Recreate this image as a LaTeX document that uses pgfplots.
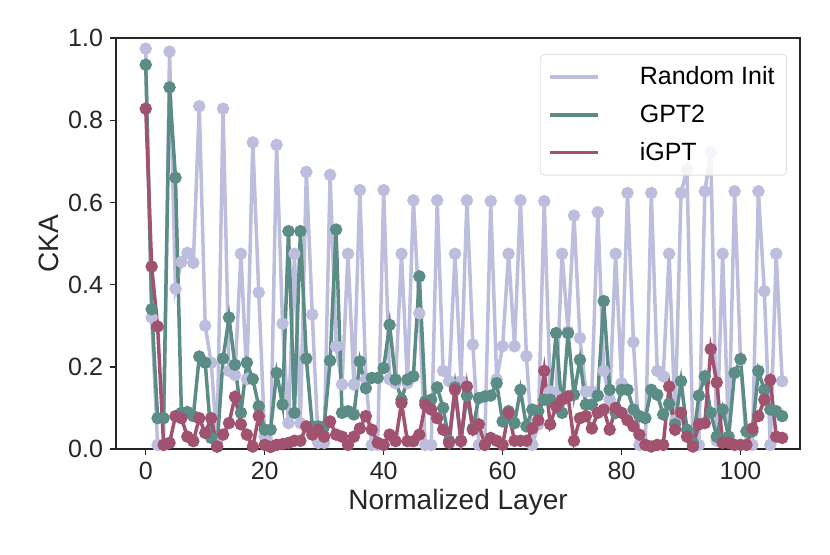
\documentclass[border=0pt]{standalone}
\usepackage{pgfplots}
\pgfplotsset{compat=1.18}
\usepackage{pgfplotstable}
\usepackage{fontspec}
\setmainfont{Liberation Sans}
\definecolor{cRand}{HTML}{BDBDDD}
\definecolor{cGPT}{HTML}{5C8C86}
\definecolor{cIGPT}{HTML}{A1526F}
\definecolor{axc}{HTML}{262626}
\pgfplotstableread{
x rand gpt igpt
0 0.974 0.935 0.828
1 0.32 0.34 0.444
2 0.01 0.075 0.298
3 0.01 0.075 0.01
4 0.967 0.88 0.015
5 0.39 0.66 0.08
6 0.455 0.088 0.075
7 0.477 0.09 0.03
8 0.453 0.08 0.019
9 0.834 0.225 0.075
10 0.30 0.21 0.039
11 0.21 0.027 0.075
12 0.015 0.006 0.006
13 0.828 0.22 0.035
14 0.19 0.32 0.063
15 0.18 0.205 0.127
16 0.475 0.088 0.06
17 0.17 0.21 0.035
18 0.746 0.17 0.006
19 0.381 0.104 0.08
20 0.03 0.047 0.01
21 0.01 0.047 0.005
22 0.740 0.185 0.01
23 0.305 0.108 0.012
24 0.063 0.53 0.015
25 0.475 0.088 0.02
26 0.063 0.53 0.02
27 0.674 0.22 0.055
28 0.327 0.055 0.035
29 0.015 0.055 0.047
30 0.015 0.055 0.03
31 0.667 0.215 0.067
32 0.25 0.534 0.035
33 0.157 0.088 0.03
34 0.475 0.092 0.01
35 0.157 0.084 0.03
36 0.63 0.213 0.05
37 0.17 0.148 0.08
38 0.01 0.173 0.047
39 0.01 0.173 0.015
40 0.63 0.197 0.01
41 0.17 0.302 0.035
42 0.16 0.169 0.019
43 0.475 0.12 0.112
44 0.16 0.169 0.019
45 0.605 0.177 0.019
46 0.33 0.42 0.035
47 0.01 0.116 0.108
48 0.01 0.12 0.096
49 0.605 0.15 0.075
50 0.19 0.10 0.047
51 0.165 0.02 0.015
52 0.475 0.15 0.144
53 0.165 0.02 0.019
54 0.605 0.13 0.152
55 0.254 0.05 0.047
56 0.01 0.124 0.06
57 0.01 0.128 0.01
58 0.603 0.13 0.027
59 0.17 0.16 0.02
60 0.25 0.067 0.01
61 0.475 0.092 0.088
62 0.25 0.063 0.02
63 0.605 0.144 0.02
64 0.226 0.055 0.02
65 0.01 0.096 0.05
66 0.06 0.092 0.07
67 0.603 0.12 0.19
68 0.14 0.12 0.06
69 0.13 0.282 0.104
70 0.475 0.088 0.12
71 0.286 0.282 0.128
72 0.568 0.132 0.02
73 0.27 0.217 0.075
74 0.14 0.108 0.08
75 0.14 0.108 0.05
76 0.576 0.13 0.088
77 0.19 0.36 0.096
78 0.12 0.144 0.047
79 0.475 0.088 0.1
80 0.16 0.144 0.088
81 0.623 0.144 0.07
82 0.26 0.096 0.055
83 0.01 0.08 0.035
84 0.01 0.075 0.01
85 0.623 0.144 0.006
86 0.19 0.132 0.01
87 0.177 0.084 0.01
88 0.475 0.11 0.152
89 0.07 0.06 0.047
90 0.623 0.165 0.088
91 0.68 0.047 0.03
92 0.01 0.015 0.006
93 0.01 0.13 0.06
94 0.627 0.177 0.063
95 0.722 0.088 0.243
96 0.02 0.03 0.162
97 0.475 0.096 0.015
98 0.02 0.03 0.015
99 0.627 0.185 0.01
100 0.217 0.219 0.01
101 0.01 0.043 0.01
102 0.01 0.043 0.05
103 0.627 0.19 0.08
104 0.384 0.144 0.12
105 0.01 0.096 0.168
106 0.475 0.092 0.03
107 0.165 0.08 0.027
}\datatable
\begin{document}
\begin{tikzpicture}
\begin{axis}[
  at={(0,0)}, anchor=south west,
  scale only axis, width=342pt, height=205.5pt,
  xmin=-5, xmax=110, ymin=0, ymax=1,
  xtick={0,20,40,60,80,100},
  ytick={0,0.2,0.4,0.6,0.8,1.0},
  yticklabel style={/pgf/number format/fixed,/pgf/number format/fixed zerofill,/pgf/number format/precision=1},
  /pgf/number format/assume math mode=true,
  ticklabel style={font=\fontsize{12.5}{14}\selectfont, text=axc},
  tick align=outside, tick pos=left,
  major tick length=3pt,
  every tick/.style={axc, line width=0.7pt},
  axis line style={axc, line width=0.7pt},
  xlabel={Normalized Layer}, ylabel={CKA},
  label style={font=\fontsize{14}{16}\selectfont, text=axc},
  xlabel style={yshift=2pt},
  ylabel style={yshift=-2pt},
  legend style={at={(0.981,0.961)}, anchor=north east, draw=gray!25, rounded corners=2pt,
    fill=white, fill opacity=0.85, text opacity=1, font=\fontsize{12.5}{15}\selectfont,
    row sep=4.5pt, inner xsep=4pt, inner ysep=4pt,
    /tikz/every odd column/.append style={column sep=18pt}},
  legend cell align=left,
  legend image code/.code={\draw[#1, line width=1.75pt] (0pt,0pt) -- (24pt,0pt);},
  every axis plot/.append style={line width=1.75pt, mark=*, mark size=2.2pt, mark options={solid}},
]
\addplot[color=cRand] table[x=x, y=rand] {\datatable};
\addlegendentry{Random Init}
\addplot[color=cGPT] table[x=x, y=gpt] {\datatable};
\addlegendentry{GPT2}
\addplot[color=cIGPT] table[x=x, y=igpt] {\datatable};
\addlegendentry{iGPT}
\end{axis}
\path[use as bounding box] (-58pt,-52.5pt) rectangle (357pt,224.5pt);
\end{tikzpicture}
\end{document}
